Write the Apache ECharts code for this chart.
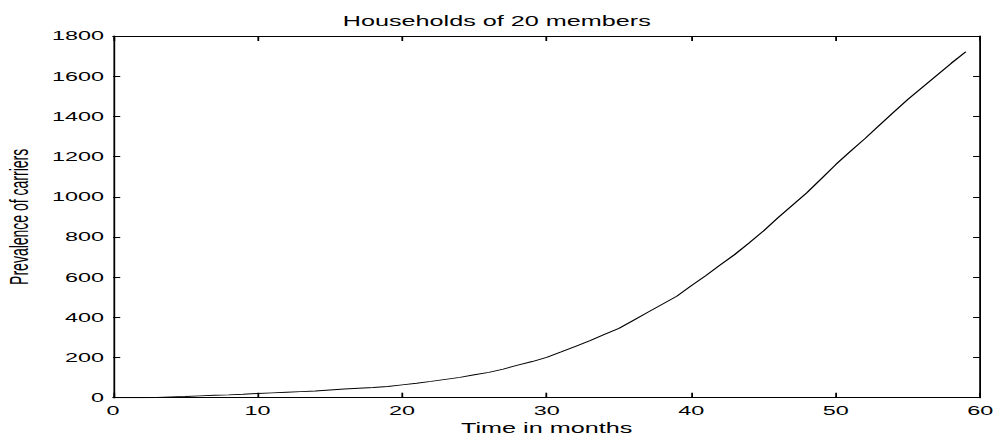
<!DOCTYPE html>
<html>
<head>
<meta charset="utf-8">
<script src="https://cdn.jsdelivr.net/npm/echarts@6/dist/echarts.min.js"></script>
<style>
  html, body { margin: 0; padding: 0; background: #fff; overflow: hidden; }
  /* The figure is laid out narrow and stretched horizontally */
  #chart { width: 552.2px; height: 436px; transform: scaleX(1.8); transform-origin: 0 0; }
</style>
</head>
<body>
<div id="chart"></div>
<script>
// Monthly prevalence of carriers
const months = [0,1,2,3,4,5,6,7,8,9,10,11,12,13,14,15,16,17,18,19,
  20,21,22,23,24,25,26,27,28,29,30,31,32,33,34,35,36,37,38,39,
  40,41,42,43,44,45,46,47,48,49,50,51,52,53,54,55,56,57,58,59];
const carriers = [0,0,0,1,4,6,9,12,14,17,21,24,27,30,33,38,43,47,51,56,
  64,72,81,91,101,114,126,142,162,180,201,228,256,284,315,345,385,425,465,505,
  557,607,660,712,770,830,895,958,1020,1090,1160,1225,1288,1355,1420,1485,1545,1605,1665,1722];

const xTicks = { min: 0, max: 60, interval: 10 };
const yTicks = { min: 0, max: 1800, interval: 200 };

const font = "'Liberation Sans', Arial, Helvetica, sans-serif";
const chart = echarts.init(document.getElementById('chart'), null, { renderer: 'svg' });

const axisLine = { show: true, onZero: false, lineStyle: { color: '#000', width: 1 } };
const plain = v => String(v);

chart.setOption({
  animation: false,
  backgroundColor: '#fff',
  title: {
    text: 'Households of 20 members',
    left: 'center',
    top: 9,
    textStyle: { fontFamily: font, fontSize: 14, fontWeight: 'normal', color: '#000' }
  },
  grid: { left: 62.8, right: 7.4, top: 36, bottom: 38.3, containLabel: false, outerBoundsMode: 'none' },
  xAxis: [
    {
      type: 'value', position: 'bottom', ...xTicks,
      name: 'Time in months', nameLocation: 'middle', nameGap: 22,
      nameTextStyle: { fontFamily: font, fontSize: 14, color: '#000' },
      axisLine, axisTick: { inside: true, length: 5, lineStyle: { color: '#000' } },
      axisLabel: { fontFamily: font, fontSize: 13, color: '#000', margin: 6, formatter: plain },
      splitLine: { show: false }
    },
    {
      type: 'value', position: 'top', ...xTicks,
      axisLine, axisTick: { inside: true, length: 5, lineStyle: { color: '#000' } },
      axisLabel: { show: false }, splitLine: { show: false }
    }
  ],
  yAxis: [
    {
      type: 'value', position: 'left', ...yTicks,
      name: 'Prevalence of carriers', nameLocation: 'middle', nameGap: 44,
      nameTextStyle: { fontFamily: font, fontSize: 14, color: '#000' },
      axisLine, axisTick: { inside: true, length: 4, lineStyle: { color: '#000' } },
      axisLabel: { fontFamily: font, fontSize: 13, color: '#000', margin: 5, formatter: plain },
      splitLine: { show: false }
    },
    {
      type: 'value', position: 'right', ...yTicks,
      axisLine, axisTick: { inside: true, length: 4, lineStyle: { color: '#000' } },
      axisLabel: { show: false }, splitLine: { show: false }
    }
  ],
  series: [{
    type: 'line',
    xAxisIndex: 0, yAxisIndex: 0,
    data: months.map((m, i) => [m, carriers[i]]),
    showSymbol: false,
    lineStyle: { color: '#000', width: 0.9 }
  }]
});
</script>
</body>
</html>
